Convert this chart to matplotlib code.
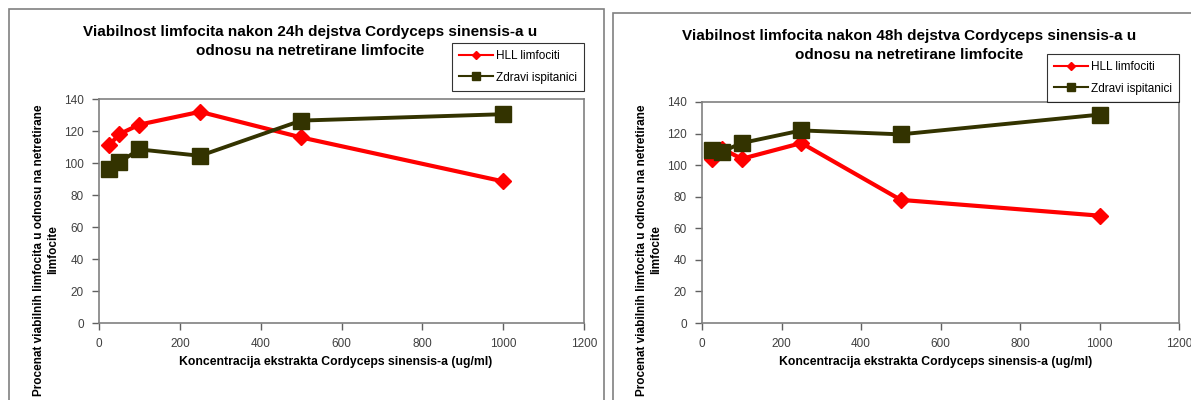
import matplotlib
matplotlib.use("Agg")
import matplotlib.pyplot as plt
from matplotlib.lines import Line2D
from matplotlib.patches import Rectangle

plt.rcParams['font.family'] = ['Liberation Sans', 'DejaVu Sans']

# Concentrations (ug/ml) and viability (%) for both exposure times
conc = [25, 50, 100, 250, 500, 1000]
hll_24h = [111, 118, 124, 132, 116, 88.5]
zdravi_24h = [96, 100.5, 108.5, 104.5, 126.5, 130.5]
hll_48h = [104, 110.5, 104, 114, 78, 68]
zdravi_48h = [109.5, 108.5, 114, 122, 119.5, 132]

titles = [("Viabilnost limfocita nakon 24h dejstva Cordyceps sinensis-a u", "odnosu na netretirane limfocite"),
          ("Viabilnost limfocita nakon 48h dejstva Cordyceps sinensis-a u", "odnosu na netretirane limfocite")]
xlabel = "Koncentracija ekstrakta Cordyceps sinensis-a (ug/ml)"
ylabel = "Procenat viabilnih limfocita u odnosu na netretirane\nlimfocite"
series_names = ["HLL limfociti", "Zdravi ispitanici"]

RED = "#ff0000"
OLIVE = "#333300"
GREY = "#808080"

W, H = 1191, 400
fig = plt.figure(figsize=(W / 100, H / 100), dpi=100)


def px(x0, y0, x1, y1):
    # pixel box (top-left origin) -> figure fraction rect
    return [x0 / W, 1 - y1 / H, (x1 - x0) / W, (y1 - y0) / H]


panels = [
    dict(box=(9, 9, 604, 420), axes=(99, 99, 584, 323), title=(310, 32), leg=(452, 43, 591, 90),
         ylab=(46, 250), xlab=(336, 362), hll=hll_24h, zdr=zdravi_24h),
    dict(box=(613, 13, 1200, 420), axes=(702, 102, 1179, 323), title=(909, 36), leg=(1047, 54, 1183, 99),
         ylab=(649, 250), xlab=(936, 362), hll=hll_48h, zdr=zdravi_48h),
]

for i, p in enumerate(panels):
    bx0, by0, bx1, by1 = p["box"]
    fig.patches.append(Rectangle((bx0 / W, 1 - by1 / H), (bx1 - bx0) / W, (by1 - by0) / H,
                                 transform=fig.transFigure, fill=False, edgecolor=GREY, lw=1.2))

    ax = fig.add_axes(px(*p["axes"]))
    ax.plot(conc, p["hll"], color=RED, lw=3, marker="D", ms=8.5, zorder=3, clip_on=False)
    ax.plot(conc, p["zdr"], color=OLIVE, lw=2.8, marker="s", ms=11, zorder=4, clip_on=False)
    ax.set_xlim(0, 1200)
    ax.set_ylim(0, 140)
    ax.set_xticks(range(0, 1201, 200))
    ax.set_yticks(range(0, 141, 20))
    for s in ax.spines.values():
        s.set_color(GREY)
        s.set_linewidth(1.2)
    ax.tick_params(direction="out", length=5, width=1, color="#606060",
                   labelsize=8.5, labelcolor="#404040", pad=6)

    # two title lines, 19 px apart
    tx, ty = p["title"]
    for k, line in enumerate(titles[i]):
        fig.text(tx / W, 1 - (ty + 19 * k) / H, line, ha="center", va="center", fontsize=11,
                 fontweight="bold")
    fig.text(p["xlab"][0] / W, 1 - p["xlab"][1] / H, xlabel, ha="center", va="center",
             fontsize=8.8, fontweight="bold")
    fig.text(p["ylab"][0] / W, 1 - p["ylab"][1] / H, ylabel, ha="center", va="center",
             rotation=90, fontsize=8.5, fontweight="bold", multialignment="center", linespacing=1.15)

    handles = [Line2D([], [], color=RED, lw=1.5, marker="D", ms=4),
               Line2D([], [], color=OLIVE, lw=1.5, marker="s", ms=6)]
    lx0, ly0, lx1, ly1 = p["leg"]
    leg = ax.legend(handles, series_names, loc="upper left",
                    bbox_to_anchor=(lx0 / W, 1 - ly0 / H), bbox_transform=fig.transFigure,
                    fontsize=8.5, frameon=True, fancybox=False, borderpad=0.6,
                    labelspacing=0.8, handlelength=2.9, handletextpad=0.2, borderaxespad=0)
    leg.get_frame().set_edgecolor("black")
    leg.get_frame().set_linewidth(0.8)

fig.savefig("out.png", dpi=100)
